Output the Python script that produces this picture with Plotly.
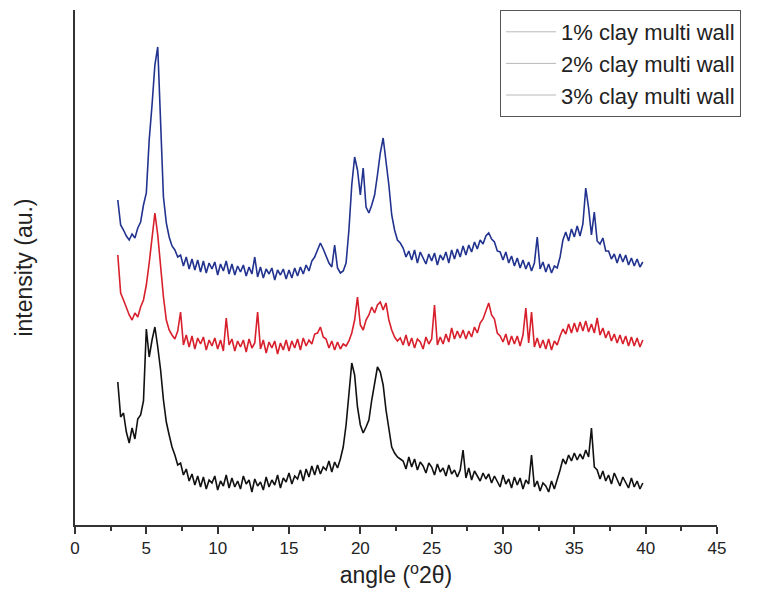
import numpy as np
import plotly.graph_objects as go

# XRD scans: 3.0 to 39.8 deg 2-theta, 0.2 deg step (ten values per row = 2 deg)
scan_start = 3.0
scan_step = 0.2

clay_1pct = [
    143, 108, 112, 93, 82, 97, 86, 106, 110, 124,      # 3.0
    196, 168, 185, 198, 178, 155, 125, 103, 90, 78,    # 5.0
    70, 60, 62, 50, 56, 44, 51, 40, 49, 38,            # 7.0
    48, 36, 45, 42, 49, 35, 44, 39, 50, 37,            # 9.0
    47, 38, 44, 36, 49, 41, 45, 33, 46, 39,            # 11.0
    43, 35, 48, 38, 45, 40, 50, 37, 47, 43,            # 13.0
    52, 41, 49, 46, 55, 44, 56, 48, 59, 50,            # 15.0
    60, 51, 58, 55, 64, 53, 63, 57, 66, 78,            # 17.0
    100, 135, 162, 150, 118, 100, 92, 98, 105, 125,    # 19.0
    140, 158, 153, 140, 115, 95, 78, 72, 68, 66,       # 21.0
    64, 56, 68, 58, 66, 55, 63, 59, 52, 62,            # 23.0
    58, 50, 61, 53, 57, 49, 60, 51, 55, 48,            # 25.0
    55, 75, 47, 57, 45, 54, 49, 44, 52, 46,            # 27.0
    51, 42, 49, 44, 38, 50, 41, 46, 37, 48,            # 29.0
    40, 47, 36, 45, 41, 70, 38, 44, 34, 42,            # 31.0
    39, 33, 44, 36, 45, 55, 66, 61, 70, 64,            # 33.0
    72, 65, 71, 66, 75, 68, 97, 58, 55, 46,            # 35.0
    54, 44, 50, 41, 52, 45, 39, 48, 42, 37,            # 37.0
    47, 38, 44, 36, 42,                                # 39.0
]

clay_2pct = [
    270, 232, 225, 218, 210, 205, 212, 208, 218, 225,  # 3.0
    240, 262, 290, 312, 290, 258, 228, 205, 195, 190,  # 5.0
    186, 194, 213, 180, 190, 178, 189, 176, 187, 181,  # 7.0
    188, 175, 185, 179, 187, 176, 185, 174, 207, 180,  # 9.0
    186, 174, 184, 178, 185, 173, 186, 177, 182, 213,  # 11.0
    176, 185, 172, 183, 177, 184, 171, 182, 175, 185,  # 13.0
    174, 184, 177, 186, 175, 187, 179, 185, 181, 191,  # 15.0
    192, 198, 188, 186, 177, 184, 175, 183, 176, 181,  # 17.0
    179, 184, 192, 205, 228, 200, 195, 205, 210, 218,  # 19.0
    212, 220, 223, 215, 222, 205, 195, 188, 184, 187,  # 21.0
    180, 190, 179, 187, 177, 186, 183, 176, 188, 181,  # 23.0
    186, 220, 180, 188, 181, 191, 183, 197, 186, 194,  # 25.0
    187, 195, 186, 194, 188, 198, 192, 202, 206, 214,  # 27.0
    222, 210, 206, 192, 189, 183, 191, 180, 189, 181,  # 29.0
    189, 179, 190, 217, 182, 213, 178, 187, 177, 185,  # 31.0
    176, 186, 175, 184, 180, 189, 196, 191, 201, 192,  # 33.0
    202, 193, 203, 194, 204, 193, 201, 192, 207, 190,  # 35.0
    197, 187, 194, 184, 191, 182, 190, 181, 189, 179,  # 37.0
    188, 179, 187, 178, 185,                           # 39.0
]

clay_3pct = [
    325, 300, 295, 289, 285, 291, 287, 297, 303, 320,  # 3.0
    332, 385, 420, 460, 478, 395, 328, 302, 288, 279,  # 5.0
    275, 268, 270, 259, 268, 256, 266, 255, 265, 253,  # 7.0
    264, 252, 262, 256, 263, 250, 261, 254, 264, 251,  # 9.0
    261, 250, 259, 253, 260, 249, 258, 251, 268, 248,  # 11.0
    258, 247, 256, 251, 257, 245, 255, 250, 256, 246,  # 13.0
    255, 247, 257, 249, 258, 251, 260, 254, 264, 268,  # 15.0
    276, 282, 276, 268, 262, 258, 280, 257, 252, 254,  # 17.0
    262, 295, 340, 368, 355, 330, 357, 318, 312, 320,  # 19.0
    330, 350, 372, 387, 365, 340, 310, 295, 285, 282,  # 21.0
    277, 268, 274, 265, 275, 262, 273, 267, 261, 271,  # 23.0
    264, 272, 260, 270, 265, 273, 262, 275, 266, 276,  # 25.0
    268, 279, 270, 280, 273, 283, 276, 285, 281, 289,  # 27.0
    292, 286, 283, 274, 273, 265, 273, 262, 269, 259,  # 29.0
    267, 257, 265, 256, 263, 254, 262, 288, 256, 263,  # 31.0
    253, 261, 252, 259, 257, 268, 285, 293, 284, 296,  # 33.0
    288, 299, 289, 301, 337, 317, 290, 313, 284, 281,  # 35.0
    287, 274, 274, 266, 271, 262, 271, 263, 270, 260,  # 37.0
    267, 259, 266, 258, 263,                           # 39.0
]

series_names = ["1% clay multi wall", "2% clay multi wall", "3% clay multi wall"]
series_colors = ["#111111", "#d8202c", "#22338f"]
x_ticks = [0, 5, 10, 15, 20, 25, 30, 35, 40, 45]

fig = go.Figure()
for vals, color in zip([clay_1pct, clay_2pct, clay_3pct], series_colors):
    angle = np.round(scan_start + scan_step * np.arange(len(vals)), 2)
    fig.add_trace(go.Scatter(x=angle, y=vals, mode="lines",
                             line=dict(color=color, width=1.6),
                             showlegend=False, hoverinfo="skip"))

# faint legend keys
for name in series_names:
    fig.add_trace(go.Scatter(x=[None], y=[None], mode="lines", name=name,
                             line=dict(color="#b8b8b8", width=1)))

font_family = "Liberation Sans, Arial, sans-serif"
fig.update_layout(
    width=763, height=609,
    margin=dict(l=75, r=46, t=10, b=84),
    paper_bgcolor="white", plot_bgcolor="white",
    font=dict(family=font_family, color="#222"),
    legend=dict(x=0.662, y=1.0, xanchor="left", yanchor="top",
                bordercolor="#555", borderwidth=1, bgcolor="white",
                font=dict(size=22, color="#222"), tracegroupgap=0,
                itemwidth=50),
    xaxis=dict(range=[0, 45], tickvals=x_ticks, ticktext=[str(t) for t in x_ticks],
               ticks="outside", ticklen=7, tickwidth=1.5, tickcolor="#333",
               minor=dict(dtick=2.5, ticks="outside", ticklen=4, tickwidth=1.5, tickcolor="#333"),
               showline=True, linecolor="#333", linewidth=1.5,
               showgrid=False, zeroline=False,
               tickfont=dict(size=17),
               title=dict(text="angle (<sup>o</sup>2θ)", font=dict(size=23), standoff=10)),
    yaxis=dict(range=[0, 515], showticklabels=False, ticks="",
               showline=True, linecolor="#333", linewidth=1.5,
               showgrid=False, zeroline=False,
               title=dict(text="intensity (au.)", font=dict(size=23), standoff=34)),
)

fig.write_html("out.html")
